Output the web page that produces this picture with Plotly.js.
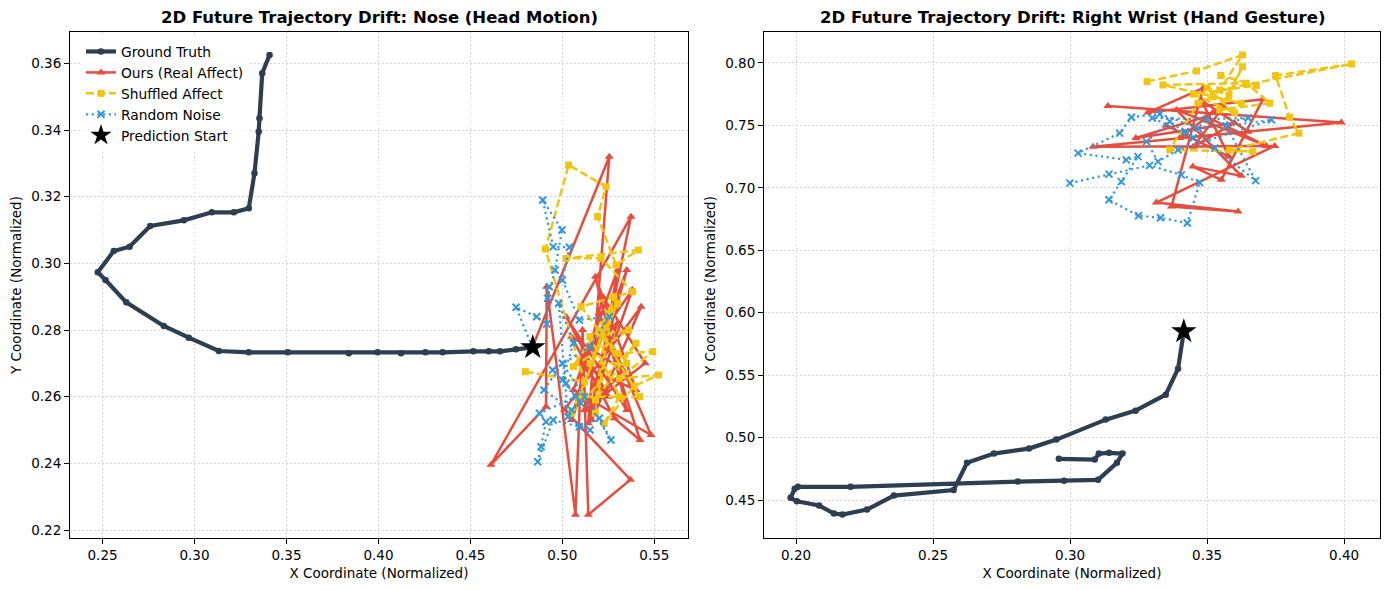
<!DOCTYPE html>
<html>
<head>
<meta charset="utf-8">
<script src="https://cdn.plot.ly/plotly-3.0.1.min.js"></script>
<style>
  html, body { margin: 0; padding: 0; background: #ffffff; }
  #chart { width: 1389px; height: 590px; }
</style>
</head>
<body>
<div id="chart"></div>
<script>
// ---- Nose (head motion) ----
const noseGtX = [0.3408, 0.3368, 0.3353, 0.3349, 0.3326, 0.3295, 0.3214, 0.3094, 0.2942, 0.2759,
                 0.2647, 0.2561, 0.2474, 0.2516, 0.2629, 0.2833, 0.2969, 0.3132, 0.3295, 0.3507,
                 0.3839, 0.3995, 0.4123, 0.4255, 0.4349, 0.4516, 0.4600, 0.4661, 0.4748, 0.4839];
const noseGtY = [0.3625, 0.3570, 0.3435, 0.3395, 0.3270, 0.3165, 0.3153, 0.3153, 0.3129, 0.3112,
                 0.3050, 0.3037, 0.2973, 0.2950, 0.2883, 0.2812, 0.2777, 0.2737, 0.2733, 0.2733,
                 0.2730, 0.2733, 0.2730, 0.2733, 0.2733, 0.2736, 0.2736, 0.2736, 0.2742, 0.2748];

const noseOursX = [0.4837, 0.5255, 0.5141, 0.5373, 0.4612, 0.4911, 0.4915, 0.5071, 0.5110, 0.5141,
                   0.5370, 0.5011, 0.5428, 0.5160, 0.5300, 0.5060, 0.5482, 0.5200, 0.5422, 0.5283,
                   0.5050, 0.5330, 0.5150, 0.5380, 0.5100, 0.5250, 0.5020, 0.5350, 0.5180, 0.5400,
                   0.5080, 0.5300, 0.5120, 0.5450, 0.5220, 0.5050, 0.5350, 0.5180];
const noseOursY = [0.2748, 0.3320, 0.2520, 0.3140, 0.2396, 0.2570, 0.2930, 0.2246, 0.2800, 0.2246,
                   0.2351, 0.2561, 0.2870, 0.2530, 0.2980, 0.2620, 0.2485, 0.2850, 0.2470, 0.2535,
                   0.2780, 0.2680, 0.2560, 0.2920, 0.2700, 0.2600, 0.2840, 0.2560, 0.2960, 0.2620,
                   0.2700, 0.2820, 0.2560, 0.2700, 0.2900, 0.2530, 0.2980, 0.2640];

const noseShufX = [0.4799, 0.5120, 0.4908, 0.5034, 0.5237, 0.5192, 0.5292, 0.5413, 0.5020, 0.5210,
                   0.5382, 0.5102, 0.5292, 0.5491, 0.5310, 0.5523, 0.5391, 0.5228, 0.5310, 0.5150,
                   0.5360, 0.5060, 0.5250, 0.5180, 0.5400, 0.5050, 0.5300, 0.5150, 0.5350, 0.5200,
                   0.5420, 0.5100, 0.5280, 0.5180];
const noseShufY = [0.2675, 0.2645, 0.3043, 0.3295, 0.3230, 0.3140, 0.2995, 0.3040, 0.3015, 0.3015,
                   0.2915, 0.2870, 0.2730, 0.2735, 0.2655, 0.2665, 0.2632, 0.2520, 0.2600, 0.2780,
                   0.2800, 0.2690, 0.2850, 0.2590, 0.2760, 0.2550, 0.2880, 0.2700, 0.2700, 0.2800,
                   0.2600, 0.2600, 0.2900, 0.2550];

const noseNoiseX = [0.4837, 0.4748, 0.4860, 0.4915, 0.4929, 0.4920, 0.4960, 0.4998, 0.4893, 0.4950,
                    0.5038, 0.5000, 0.5092, 0.5255, 0.5150, 0.4947, 0.5020, 0.5074, 0.4875, 0.4911,
                    0.4884, 0.4866, 0.4950, 0.5092, 0.5201, 0.5264, 0.5120, 0.5000, 0.4900, 0.5050,
                    0.5100, 0.5000, 0.5060, 0.4980, 0.5030, 0.5150];
const noseNoiseY = [0.2748, 0.2868, 0.2840, 0.2818, 0.2930, 0.2895, 0.2980, 0.3100, 0.3190, 0.3050,
                    0.3048, 0.2950, 0.2830, 0.2840, 0.2750, 0.2680, 0.2640, 0.2600, 0.2550, 0.2525,
                    0.2450, 0.2405, 0.2530, 0.2510, 0.2535, 0.2470, 0.2600, 0.2700, 0.2620, 0.2560,
                    0.2580, 0.2650, 0.2760, 0.2880, 0.2540, 0.2500];

const noseStart = [0.4839, 0.2748];

// ---- Right wrist (hand gesture) ----
const wristGtX = [0.3415, 0.3394, 0.3349, 0.3239, 0.3130, 0.2950, 0.2850, 0.2722, 0.2624, 0.2575,
                  0.2357, 0.2259, 0.2169, 0.2138, 0.2084, 0.2003, 0.1980, 0.1995, 0.2007, 0.2199,
                  0.2809, 0.2978, 0.3102, 0.3171, 0.3191, 0.3142, 0.3105, 0.3090, 0.2959];
const wristGtY = [0.5850, 0.5552, 0.5344, 0.5216, 0.5144, 0.4984, 0.4912, 0.4872, 0.4798, 0.4580,
                  0.4536, 0.4424, 0.4384, 0.4392, 0.4456, 0.4490, 0.4518, 0.4590, 0.4606, 0.4606,
                  0.4648, 0.4654, 0.4662, 0.4798, 0.4872, 0.4878, 0.4872, 0.4824, 0.4830];

const wristOursX = [0.3138, 0.3990, 0.3084, 0.3747, 0.3315, 0.3613, 0.3370, 0.3485, 0.3284, 0.3704,
                    0.3552, 0.3448, 0.3625, 0.3388, 0.3716, 0.3497, 0.3240, 0.3600, 0.3450, 0.3560,
                    0.3520, 0.3400, 0.3650, 0.3480, 0.3580, 0.3350];
const wristOursY = [0.7656, 0.7523, 0.7330, 0.7336, 0.6882, 0.6810, 0.6850, 0.7798, 0.7603, 0.7710,
                    0.7064, 0.7170, 0.7096, 0.7624, 0.7336, 0.7570, 0.7400, 0.7520, 0.7330, 0.7650,
                    0.7600, 0.7400, 0.7450, 0.7700, 0.7250, 0.7500];

const wristShufX = [0.3281, 0.3461, 0.3629, 0.3546, 0.4027, 0.3750, 0.3801, 0.3835, 0.3583, 0.3667,
                    0.3364, 0.3467, 0.3522, 0.3625, 0.3339, 0.3643, 0.3729, 0.3546, 0.3629, 0.3580,
                    0.3500, 0.3600, 0.3450, 0.3680, 0.3550];
const wristShufY = [0.7851, 0.7936, 0.8064, 0.7784, 0.7992, 0.7899, 0.7566, 0.7438, 0.7304, 0.7290,
                    0.7304, 0.7678, 0.7730, 0.7678, 0.7824, 0.7838, 0.7678, 0.7624, 0.7970, 0.7740,
                    0.7800, 0.7600, 0.7750, 0.7820, 0.7900];

const wristNoiseX = [0.2999, 0.3142, 0.3290, 0.3406, 0.3473, 0.3428, 0.3330, 0.3250, 0.3142, 0.3187,
                     0.3248, 0.3205, 0.3029, 0.3181, 0.3224, 0.3327, 0.3467, 0.3528, 0.3677, 0.3570,
                     0.3735, 0.3394, 0.3321, 0.3279, 0.3364, 0.3450, 0.3300, 0.3500, 0.3650, 0.3420];
const wristNoiseY = [0.7038, 0.7110, 0.7180, 0.7104, 0.7042, 0.6718, 0.6760, 0.6776, 0.6904, 0.7050,
                     0.7250, 0.7224, 0.7278, 0.7438, 0.7566, 0.7592, 0.7478, 0.7318, 0.7058, 0.7496,
                     0.7544, 0.7304, 0.7210, 0.7370, 0.7530, 0.7400, 0.7560, 0.7550, 0.7560, 0.7450];

const wristStart = [0.3415, 0.5850];

// ---- styling ----
const C_GT = '#2c3e50', C_OURS = '#e74c3c', C_SHUF = '#f1c40f', C_NOISE = '#3498db';
const FONT = 'DejaVu Sans, Verdana, sans-serif';

function panel(xa, ya, gt, ours, shuf, noise, start, legend) {
  const ax = { xaxis: xa, yaxis: ya };
  return [
    Object.assign({
      type: 'scatter', mode: 'lines+markers', name: 'Ground Truth', showlegend: legend,
      x: gt[0], y: gt[1],
      line: { color: C_GT, width: 4.2 },
      marker: { color: C_GT, size: 6.5, symbol: 'circle' }
    }, ax),
    Object.assign({
      type: 'scatter', mode: 'lines+markers', name: 'Ours (Real Affect)', showlegend: legend,
      x: ours[0], y: ours[1],
      line: { color: C_OURS, width: 2.5 },
      marker: { color: C_OURS, size: 8, symbol: 'triangle-up' }
    }, ax),
    Object.assign({
      type: 'scatter', mode: 'lines+markers', name: 'Shuffled Affect', showlegend: legend,
      x: shuf[0], y: shuf[1],
      line: { color: C_SHUF, width: 2.5, dash: '8px,3.5px' },
      marker: { color: C_SHUF, size: 7, symbol: 'square' }
    }, ax),
    Object.assign({
      type: 'scatter', mode: 'lines+markers', name: 'Random Noise', showlegend: legend,
      x: noise[0], y: noise[1],
      line: { color: C_NOISE, width: 2.2, dash: '2.2px,3.5px' },
      marker: { color: C_NOISE, size: 7, symbol: 'x-thin-open', line: { color: C_NOISE, width: 2 } }
    }, ax),
    Object.assign({
      type: 'scatter', mode: 'markers', name: 'Prediction Start', showlegend: legend,
      x: [start[0]], y: [start[1]],
      marker: { color: '#000000', size: 19, symbol: 'star', line: { width: 0 } }
    }, ax)
  ];
}

const data = []
  .concat(panel('x', 'y', [noseGtX, noseGtY], [noseOursX, noseOursY], [noseShufX, noseShufY],
                [noseNoiseX, noseNoiseY], noseStart, true))
  .concat(panel('x2', 'y2', [wristGtX, wristGtY], [wristOursX, wristOursY], [wristShufX, wristShufY],
                [wristNoiseX, wristNoiseY], wristStart, false));

const W = 1389, H = 590;
function axisBase(extra) {
  return Object.assign({
    showline: true, mirror: true, linecolor: '#000000', linewidth: 1,
    ticks: 'outside', ticklen: 5, tickwidth: 1, tickcolor: '#000000',
    showgrid: true, gridcolor: '#d6d6d6', griddash: '1.5px,2.5px', gridwidth: 1,
    zeroline: false, tickformat: '.2f',
    tickfont: { family: FONT, size: 13.5, color: '#000000' },
    automargin: false
  }, extra);
}
const xTitle = { text: 'X Coordinate (Normalized)', font: { family: FONT, size: 13.5, color: '#000000' }, standoff: 6 };
const yTitle = { text: 'Y Coordinate (Normalized)', font: { family: FONT, size: 13.5, color: '#000000' }, standoff: 6 };

const layout = {
  width: W, height: H,
  margin: { l: 0, r: 0, t: 0, b: 0 },
  paper_bgcolor: '#ffffff', plot_bgcolor: '#ffffff',
  font: { family: FONT, color: '#000000' },
  xaxis: axisBase({ domain: [70 / W, 688 / W], range: [0.2323, 0.5683], dtick: 0.05, tick0: 0, anchor: 'y', title: xTitle }),
  yaxis: axisBase({ domain: [1 - 538 / H, 1 - 32 / H], range: [0.2176, 0.3694], dtick: 0.02, tick0: 0, anchor: 'x', title: yTitle }),
  xaxis2: axisBase({ domain: [764 / W, 1380 / W], range: [0.1883, 0.4131], dtick: 0.05, tick0: 0, anchor: 'y2', title: xTitle }),
  yaxis2: axisBase({ domain: [1 - 538 / H, 1 - 32 / H], range: [0.4196, 0.8248], dtick: 0.05, tick0: 0, anchor: 'x2', title: yTitle }),
  showlegend: true,
  legend: {
    x: 81 / W, y: 1 - 36 / H, xanchor: 'left', yanchor: 'top',
    bgcolor: 'rgba(255,255,255,0.8)', borderwidth: 0,
    font: { family: FONT, size: 13.8, color: '#000000' },
    itemwidth: 30, tracegroupgap: 0
  },
  annotations: [
    { text: '<b>2D Future Trajectory Drift: Nose (Head Motion)</b>', xref: 'paper', yref: 'paper',
      x: (70 + 688) / 2 / W, y: 1 - 18 / H, xanchor: 'center', yanchor: 'middle', showarrow: false,
      font: { family: FONT, size: 16.5, color: '#000000' } },
    { text: '<b>2D Future Trajectory Drift: Right Wrist (Hand Gesture)</b>', xref: 'paper', yref: 'paper',
      x: (764 + 1380) / 2 / W, y: 1 - 18 / H, xanchor: 'center', yanchor: 'middle', showarrow: false,
      font: { family: FONT, size: 16.5, color: '#000000' } }
  ]
};

Plotly.newPlot('chart', data, layout, { displayModeBar: false, staticPlot: true });
</script>
</body>
</html>
